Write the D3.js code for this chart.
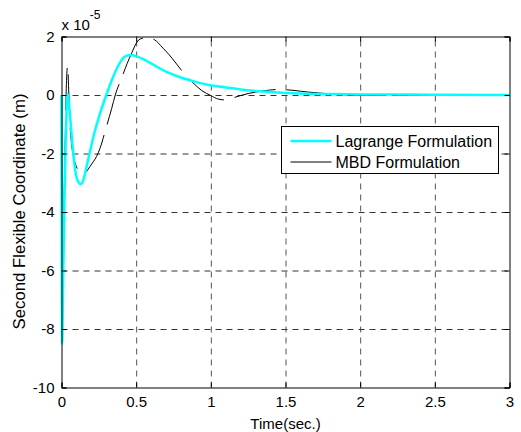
<!DOCTYPE html>
<html>
<head>
<meta charset="utf-8">
<script src="https://cdn.jsdelivr.net/npm/d3@7"></script>
<style>
  body { margin: 0; background: #fff; }
  svg text { font-family: "Liberation Sans", Arial, sans-serif; fill: #000; }
</style>
</head>
<body>
<div id="chart"></div>
<script>
// values in units of 1e-5 m
const tLag = [0, 0.004, 0.012, 0.02, 0.03, 0.04, 0.05, 0.07, 0.09, 0.11, 0.13, 0.15, 0.17, 0.19, 0.22, 0.26,
  0.3, 0.34, 0.38, 0.42, 0.46, 0.5, 0.55, 0.6, 0.7, 0.8, 0.9, 1.0, 1.1, 1.2, 1.3, 1.4, 1.5, 1.6, 1.8, 2.0, 2.5, 3.0];
const vLag = [0, -8.5, -6, -3.5, -1.2, 0.05, -0.3, -1.5, -2.5, -2.95, -3.05, -2.85, -2.4, -1.95, -1.3, -0.6,
  0, 0.55, 1.0, 1.3, 1.37, 1.33, 1.22, 1.08, 0.8, 0.6, 0.45, 0.33, 0.26, 0.19, 0.14, 0.1, 0.07, 0.05, 0.03, 0.02, 0.01, 0];

const tMbd = [0, 0.006, 0.015, 0.025, 0.033, 0.041, 0.048, 0.057, 0.068, 0.08, 0.1, 0.125, 0.146, 0.17, 0.19,
  0.213, 0.235, 0.258, 0.3, 0.336, 0.36, 0.4, 0.466, 0.517, 0.55, 0.58, 0.62, 0.68, 0.72, 0.76, 0.82, 0.88,
  0.94, 1.0, 1.05, 1.1, 1.16, 1.25, 1.35, 1.46, 1.55, 1.65, 1.72, 1.85, 2.0, 2.2, 2.5, 3.0];
const vMbd = [0, -6.6, -4.2, -1.5, 0.4, 1.0, 0.2, -1.0, -1.7, -2.1, -2.45, -2.65, -2.68, -2.6, -2.45,
  -2.28, -2.1, -1.82, -1.1, -0.46, 0.0, 0.55, 1.39, 1.88, 1.95, 1.96, 1.9, 1.6, 1.38, 1.13, 0.74, 0.42,
  0.15, -0.02, -0.14, -0.17, -0.08, 0.05, 0.14, 0.19, 0.16, 0.1, 0.07, 0.02, -0.01, -0.01, 0, 0];

const xTicks = [0, 0.5, 1, 1.5, 2, 2.5, 3];
const xTickLabels = ["0", "0.5", "1", "1.5", "2", "2.5", "3"];
const yTicks = [-10, -8, -6, -4, -2, 0, 2];
const yTickLabels = ["-10", "-8", "-6", "-4", "-2", "0", "2"];
const seriesNames = ["Lagrange Formulation", "MBD Formulation"];

const W = 521, H = 432;
const pLeft = 61.5, pRight = 509.5, pTop = 36.5, pBottom = 387.5;

const svg = d3.select("#chart").append("svg")
    .attr("width", W)
    .attr("height", H);

svg.append("rect")
    .attr("width", W).attr("height", H)
    .attr("fill", "#fff");

const x = d3.scaleLinear().domain([0, 3]).range([pLeft, pRight]);
const y = d3.scaleLinear().domain([-10, 2]).range([pBottom, pTop]);

// grid
svg.append("g")
    .attr("transform", `translate(0, ${pBottom})`)
    .call(d3.axisBottom(x).tickValues(xTicks.slice(1, -1)).tickSize(-(pBottom - pTop)).tickFormat(""))
    .call(g => g.select(".domain").remove())
    .selectAll("line")
      .attr("stroke", "#555")
      .attr("stroke-dasharray", "6,5");

svg.append("g")
    .attr("transform", `translate(${pLeft}, 0)`)
    .call(d3.axisLeft(y).tickValues(yTicks.slice(1, -1)).tickSize(-(pRight - pLeft)).tickFormat(""))
    .call(g => g.select(".domain").remove())
    .selectAll("line")
      .attr("stroke", "#333")
      .attr("stroke-dasharray", "6,5");

// curves
const lineLag = d3.line()
    .x((d, i) => x(tLag[i]))
    .y(d => y(d))
    .curve(d3.curveMonotoneX);

const lineMbd = d3.line()
    .x((d, i) => x(tMbd[i]))
    .y(d => y(d))
    .curve(d3.curveMonotoneX);

svg.append("path")
    .attr("d", lineMbd(vMbd))
    .attr("fill", "none")
    .attr("stroke", "#000")
    .attr("stroke-width", 1)
    .attr("stroke-dasharray", "42,11");

svg.append("path")
    .attr("d", lineLag(vLag))
    .attr("fill", "none")
    .attr("stroke", "#00ffff")
    .attr("stroke-width", 2.5);

// axes box with inward ticks
const axB = svg.append("g").attr("transform", `translate(0, ${pBottom})`)
    .call(d3.axisBottom(x).tickValues(xTicks).tickSize(-5).tickPadding(9)
      .tickFormat((d, i) => xTickLabels[i]));
axB.selectAll("text").attr("font-size", 15).attr("dy", "0.71em");
svg.append("g").attr("transform", `translate(0, ${pTop})`)
    .call(d3.axisTop(x).tickValues(xTicks).tickSize(-5).tickFormat(""));
const axL = svg.append("g").attr("transform", `translate(${pLeft}, 0)`)
    .call(d3.axisLeft(y).tickValues(yTicks).tickSize(-5).tickPadding(7)
      .tickFormat((d, i) => yTickLabels[i]));
axL.selectAll("text").attr("font-size", 15);
svg.append("g").attr("transform", `translate(${pRight}, 0)`)
    .call(d3.axisRight(y).tickValues(yTicks).tickSize(-5).tickFormat(""));

svg.selectAll(".domain").attr("stroke", "#000");
axB.selectAll("text").attr("font-family", "Liberation Sans, Arial, sans-serif");
axL.selectAll("text").attr("font-family", "Liberation Sans, Arial, sans-serif");

// exponent
const expo = svg.append("text")
    .attr("x", pLeft)
    .attr("y", 30)
    .attr("font-size", 15);
expo.append("tspan").text("x 10");
expo.append("tspan").attr("dy", -11).attr("font-size", 12).text("-5");

// axis labels
svg.append("text")
    .attr("x", (pLeft + pRight) / 2)
    .attr("y", 429)
    .attr("text-anchor", "middle")
    .attr("font-size", 15)
    .text("Time(sec.)");

svg.append("text")
    .attr("transform", `translate(25, 211.5) rotate(-90)`)
    .attr("text-anchor", "middle")
    .attr("font-size", 16.8)
    .text("Second Flexible Coordinate (m)");

// legend
const leg = svg.append("g").attr("transform", "translate(281.5, 126.5)");
leg.append("rect")
    .attr("width", 217).attr("height", 47)
    .attr("fill", "#fff")
    .attr("stroke", "#000");
const legColors = ["#00ffff", "#000"];
const legWidths = [2.5, 1];
seriesNames.forEach((name, i) => {
  const yy = 14.5 + i * 21;
  leg.append("line")
      .attr("x1", 9).attr("x2", 50)
      .attr("y1", yy).attr("y2", yy)
      .attr("stroke", legColors[i])
      .attr("stroke-width", legWidths[i]);
  leg.append("text")
      .attr("x", 54).attr("y", yy)
      .attr("dy", "0.36em")
      .attr("font-size", 16)
      .text(name);
});
</script>
</body>
</html>
